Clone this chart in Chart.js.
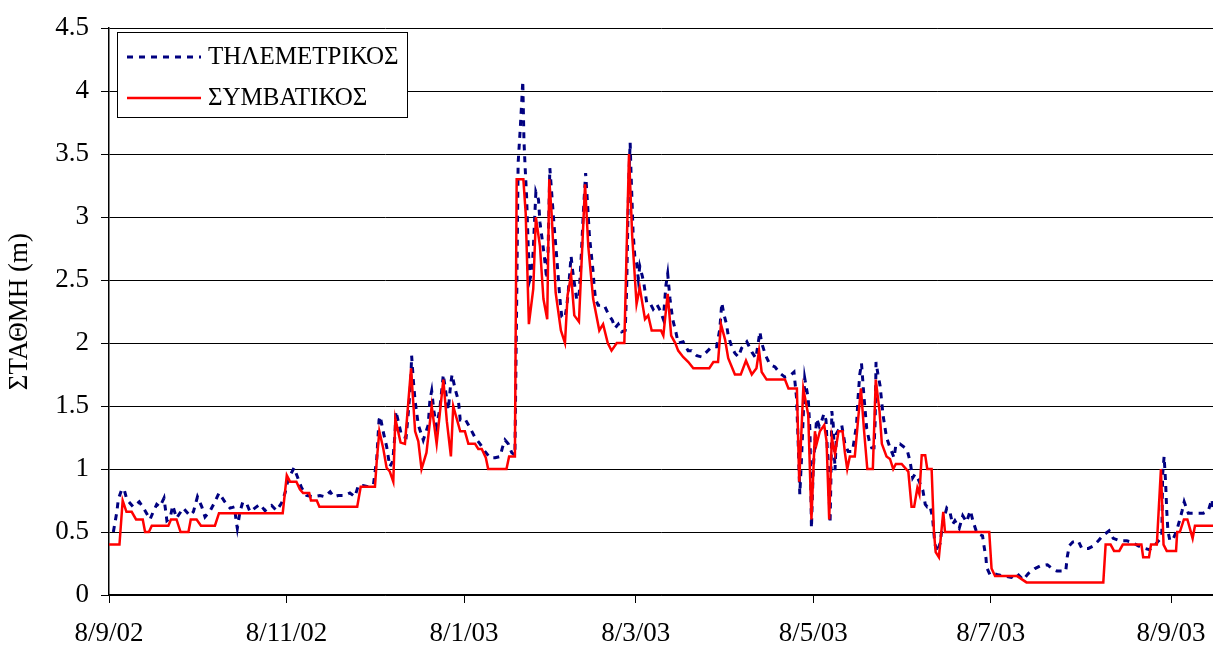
<!DOCTYPE html>
<html>
<head>
<meta charset="utf-8">
<script src="https://cdn.jsdelivr.net/npm/chart.js@4.4.1/dist/chart.umd.min.js"></script>
<style>
  body { margin: 0; background: #fff; }
  #wrap { width: 1213px; height: 648px; }
</style>
</head>
<body>
<div id="wrap"><canvas id="myChart" width="1213" height="648"></canvas></div>
<script>
// x values are days counted from 8/9/02
let tickDays = [0, 61, 122, 181, 242, 303, 365];
let tickLabels = ["8/9/02", "8/11/02", "8/1/03", "8/3/03", "8/5/03", "8/7/03", "8/9/03"];

let seriesNames = ["ΤΗΛΕΜΕΤΡΙΚΟΣ", "ΣΥΜΒΑΤΙΚΟΣ"];

// telemetric gauge (dashed)
let teleDays = [
  1.5,2.7,3.2,4.4,5.2,6.1,8.3,10.4,11.6,14.1,
  15.2,16.4,17.5,18.9,19.9,21.0,21.9,23.2,25.5,27.8,
  29.0,30.4,31.9,33.0,34.8,36.4,37.8,39.8,41.6,43.1,
  43.7,44.1,45.0,46.0,47.4,48.5,50.1,51.9,53.6,54.7,
  55.9,57.6,59.3,60.5,61.6,63.6,65.2,66.2,67.9,70.2,
  72.5,74.2,76.0,77.2,78.8,81.1,82.8,84.5,85.7,87.2,
  89.1,90.9,92.0,92.8,93.2,94.2,95.4,96.5,97.5,98.3,
  98.6,99.4,100.6,102.1,102.9,103.7,104.0,104.6,105.2,106.3,
  108.0,109.7,110.3,110.9,111.7,112.6,113.7,114.9,116.1,116.6,
  117.4,117.9,118.9,120.1,120.7,122.3,124.0,125.8,127.5,129.2,
  130.9,132.7,134.4,135.2,136.1,137.2,138.4,139.5,140.1,140.6,
  141.3,141.8,142.2,142.6,143.0,143.5,144.1,144.7,145.3,145.8,
  146.7,147.6,148.1,149.0,149.6,150.4,150.9,151.5,152.3,153.0,
  153.8,154.4,155.0,155.6,156.7,157.3,157.8,158.8,159.3,159.9,
  160.7,161.5,162.4,163.0,163.8,164.5,165.1,165.6,166.4,166.7,
  167.2,168.1,170.2,171.6,173.0,173.9,175.0,176.2,177.4,177.9,
  178.3,178.7,179.1,179.4,179.8,180.1,180.7,181.3,181.9,182.4,
  183.3,183.9,184.8,185.9,187.0,188.2,189.4,190.5,191.4,192.0,
  192.8,193.7,194.8,195.6,197.3,199.0,200.2,202.0,203.7,205.4,
  207.1,208.8,209.9,210.6,211.3,212.2,212.8,214.0,215.1,216.3,
  217.4,219.2,220.9,222.3,223.7,224.3,225.7,227.1,228.9,230.6,
  232.3,234.0,235.4,236.3,236.9,237.4,238.0,238.6,239.1,239.7,
  240.3,240.9,241.4,242.0,242.6,243.2,244.1,244.9,245.7,246.4,
  247.2,247.8,248.1,248.4,248.9,249.5,250.0,250.7,251.8,252.9,
  254.0,255.5,256.9,257.4,258.0,258.6,259.5,260.4,261.3,262.1,
  262.9,263.3,263.6,264.2,265.0,266.0,267.2,268.4,269.8,270.4,
  271.8,273.5,274.3,275.3,276.2,277.0,278.1,279.7,280.5,281.2,
  282.1,283.0,283.8,284.6,285.6,286.5,287.9,289.0,289.9,290.7,
  292.2,293.4,294.7,296.0,297.0,298.3,300.2,300.7,301.4,301.6,
  302.8,303.9,305.6,307.9,310.1,312.1,314.2,315.9,318.2,320.0,
  322.5,324.6,325.8,328.8,329.3,330.0,331.2,333.1,334.3,336.6,
  338.3,340.0,341.5,343.7,345.1,347.4,349.8,351.5,353.7,356.0,
  357.5,358.9,360.3,361.8,362.1,362.6,363.1,363.5,363.9,364.6,
  365.8,366.9,368.0,368.8,369.5,370.9,372.6,374.4,376.1,377.8,
  379.0,379.5
];
let teleLevels = [
  0.50,0.66,0.76,0.84,0.84,0.76,0.70,0.74,0.70,0.60,
  0.66,0.72,0.70,0.77,0.59,0.61,0.71,0.61,0.69,0.63,
  0.66,0.78,0.70,0.62,0.67,0.74,0.81,0.74,0.69,0.70,
  0.59,0.53,0.66,0.74,0.72,0.66,0.69,0.72,0.67,0.69,
  0.71,0.67,0.73,0.81,0.92,1.01,0.91,0.85,0.79,0.78,
  0.79,0.78,0.82,0.78,0.79,0.79,0.81,0.78,0.87,0.87,
  0.86,0.88,1.08,1.39,1.42,1.30,1.18,1.02,1.06,1.28,
  1.46,1.38,1.26,1.25,1.46,1.69,1.90,1.70,1.54,1.35,
  1.23,1.35,1.55,1.62,1.45,1.34,1.48,1.75,1.55,1.47,
  1.67,1.75,1.64,1.54,1.39,1.40,1.33,1.25,1.20,1.14,
  1.09,1.09,1.10,1.17,1.23,1.20,1.13,1.11,2.32,3.43,
  3.69,3.90,4.08,3.61,3.40,3.17,2.74,2.51,2.56,2.74,
  3.20,3.14,2.96,2.80,2.69,2.51,2.74,3.39,3.14,2.92,
  2.70,2.52,2.34,2.21,2.20,2.29,2.40,2.69,2.58,2.48,
  2.35,2.35,2.74,3.03,3.35,3.09,2.85,2.74,2.56,2.46,
  2.35,2.30,2.30,2.23,2.18,2.12,2.15,2.09,2.10,2.43,
  2.96,3.35,3.59,3.35,3.09,2.88,2.69,2.64,2.51,2.61,
  2.53,2.46,2.32,2.32,2.27,2.31,2.26,2.19,2.46,2.55,
  2.35,2.19,2.09,2.00,2.01,1.94,1.94,1.90,1.89,1.93,
  1.97,1.97,2.11,2.32,2.23,2.15,2.06,1.97,1.92,1.89,
  1.96,2.01,1.93,1.88,2.09,2.00,1.90,1.83,1.81,1.76,
  1.73,1.74,1.77,1.56,1.17,0.80,1.09,1.43,1.72,1.64,
  1.56,1.30,0.53,0.99,1.22,1.40,1.34,1.38,1.44,1.39,
  0.99,0.57,0.93,1.46,1.35,0.99,1.28,1.31,1.35,1.20,
  1.14,1.14,1.35,1.56,1.75,1.84,1.56,1.32,1.22,1.17,
  1.17,1.38,1.85,1.76,1.66,1.43,1.25,1.17,1.09,1.19,
  1.20,1.17,1.15,1.06,0.93,0.96,0.92,0.83,0.72,0.70,
  0.71,0.62,0.41,0.34,0.41,0.57,0.69,0.66,0.56,0.59,
  0.53,0.63,0.58,0.67,0.58,0.49,0.47,0.39,0.29,0.22,
  0.16,0.17,0.16,0.15,0.14,0.17,0.12,0.17,0.21,0.23,
  0.24,0.20,0.19,0.19,0.30,0.39,0.42,0.43,0.37,0.37,
  0.39,0.43,0.47,0.51,0.45,0.43,0.43,0.42,0.39,0.37,
  0.36,0.38,0.42,0.46,0.96,1.10,0.90,0.67,0.51,0.43,
  0.45,0.51,0.60,0.67,0.74,0.65,0.65,0.65,0.65,0.67,
  0.76,0.67
];

// conventional gauge (solid)
let convDays = [
  0,3.6,4.7,6.0,7.8,9.3,11.6,12.4,13.7,14.7,
  20.4,21.3,23.2,24.6,27.3,28.1,30.1,31.6,36.4,37.8,
  59.7,61.1,62.2,64.4,65.6,66.7,68.8,69.4,71.4,72.3,
  85.3,86.5,91.4,92.0,92.9,94.2,95.4,96.5,97.7,98.4,
  100.2,101.7,103.8,105.2,106.3,107.4,109.1,110.9,112.6,114.9,
  116.1,117.5,118.3,120.7,122.3,123.5,125.8,126.9,128.1,129.5,
  130.3,136.6,137.5,139.5,140.1,142.4,143.2,144.3,145.8,146.7,
  148.1,149.3,150.6,151.3,152.1,153.5,155.3,156.7,157.6,158.8,
  159.9,161.5,163.6,164.7,166.4,168.5,169.8,171.4,172.7,174.5,
  177.1,178.7,179.8,181.3,182.4,184.2,185.3,186.5,189.7,190.5,
  192.0,193.2,194.6,195.6,197.3,199.1,200.8,206.3,207.7,209.3,
  210.3,211.7,212.8,215.1,217.1,218.9,220.9,222.5,223.4,224.3,
  226.0,232.3,233.5,236.4,237.2,238.6,240.3,241.4,242.6,243.2,
  244.3,245.8,246.6,247.5,248.4,249.5,250.7,252.1,252.9,253.7,
  254.6,256.3,258.4,259.5,260.6,262.5,263.5,264.8,265.6,267.2,
  268.4,269.5,270.4,272.4,274.7,275.8,276.7,277.8,278.5,279.3,
  280.5,281.2,282.7,283.5,284.1,285.2,286.7,287.3,302.5,303.3,
  304.5,312.1,315.3,341.7,342.5,344.2,345.4,347.2,348.4,354.8,
  355.4,357.4,358.1,360.1,361.5,362.4,363.5,366.7,367.1,368.0,
  369.4,370.6,372.4,373.2,379.5
];
let convLevels = [
  0.40,0.40,0.75,0.66,0.66,0.60,0.60,0.50,0.50,0.55,
  0.55,0.60,0.60,0.50,0.50,0.60,0.60,0.55,0.55,0.65,
  0.65,0.95,0.90,0.90,0.84,0.81,0.81,0.75,0.75,0.70,
  0.70,0.86,0.86,1.06,1.30,1.17,1.01,0.98,0.90,1.40,
  1.21,1.20,1.80,1.30,1.22,1.00,1.13,1.50,1.20,1.71,
  1.38,1.10,1.50,1.30,1.30,1.20,1.20,1.16,1.16,1.09,
  1.00,1.00,1.10,1.10,3.30,3.30,3.03,2.15,2.43,3.00,
  2.77,2.35,2.19,3.30,3.03,2.40,2.10,2.00,2.38,2.54,
  2.22,2.17,3.26,2.77,2.35,2.10,2.15,2.00,1.94,2.00,
  2.00,3.50,2.85,2.31,2.44,2.19,2.22,2.10,2.10,2.06,
  2.39,2.06,2.00,1.94,1.89,1.85,1.80,1.80,1.85,1.85,
  2.15,2.03,1.88,1.75,1.75,1.86,1.75,1.80,1.94,1.77,
  1.71,1.71,1.64,1.64,0.90,1.64,1.43,0.60,1.30,1.20,
  1.30,1.35,1.22,0.60,1.25,1.12,1.30,1.30,1.13,1.00,
  1.10,1.10,1.64,1.30,1.00,1.00,1.71,1.46,1.20,1.10,
  1.08,1.00,1.04,1.04,0.98,0.70,0.70,0.85,0.80,1.11,
  1.11,1.00,1.00,0.50,0.34,0.30,0.66,0.50,0.50,0.21,
  0.15,0.15,0.10,0.10,0.40,0.40,0.35,0.35,0.40,0.40,
  0.30,0.30,0.40,0.40,1.00,0.40,0.35,0.35,0.50,0.50,
  0.60,0.60,0.45,0.55,0.55
];

let serif = '"Liberation Serif", "Times New Roman", serif';

function toPoints(days, levels) {
    return days.map((d, i) => ({ x: d, y: levels[i] }));
}

// legend drawn as a box inside the plot, like the original
const boxLegend = {
    id: "boxLegend",
    afterDraw(chart) {
        let ctx = chart.ctx;
        ctx.save();
        ctx.fillStyle = "#fff";
        ctx.fillRect(117, 32, 290, 85);
        ctx.strokeStyle = "#000";
        ctx.lineWidth = 1;
        ctx.strokeRect(117.5, 32.5, 290, 85);
        chart.data.datasets.forEach((ds, i) => {
            let y = 57 + i * 41;
            ctx.strokeStyle = ds.borderColor;
            ctx.lineWidth = ds.borderWidth;
            ctx.setLineDash(ds.borderDash || []);
            ctx.beginPath();
            ctx.moveTo(127, y);
            ctx.lineTo(201, y);
            ctx.stroke();
            ctx.setLineDash([]);
            ctx.fillStyle = "#000";
            ctx.font = "25px " + serif;
            ctx.textBaseline = "middle";
            ctx.fillText(ds.label, 208, y);
        });
        ctx.restore();
    }
};

let ctx1 = document.querySelector("#myChart");

new Chart(ctx1, {
    type: "line",
    data: {
        datasets: [
            {
                label: seriesNames[0],
                data: toPoints(teleDays, teleLevels),
                borderColor: "#000080",
                borderWidth: 3,
                borderDash: [6, 6],
                pointRadius: 0,
                tension: 0,
                order: 2
            },
            {
                label: seriesNames[1],
                data: toPoints(convDays, convLevels),
                borderColor: "#ff0000",
                borderWidth: 2.5,
                pointRadius: 0,
                tension: 0,
                order: 1
            }
        ]
    },
    options: {
        responsive: false,
        animation: false,
        devicePixelRatio: 1,
        layout: {
            padding: { top: 24, right: 0, bottom: 0, left: 0 }
        },
        plugins: {
            legend: { display: false },
            tooltip: { enabled: false }
        },
        scales: {
            x: {
                type: "linear",
                min: 0,
                max: 379.4,
                afterBuildTicks: (scale) => {
                    scale.ticks = tickDays.map(v => ({ value: v }));
                },
                afterFit: (scale) => {
                    scale.height = 53;
                    // plot runs to the right edge, the last label does not reach it
                    scale.paddingLeft = 0;
                    scale.paddingRight = 0;
                },
                ticks: {
                    autoSkip: false,
                    maxRotation: 0,
                    color: "#000",
                    padding: 15,
                    font: { family: serif, size: 27 },
                    callback: (v) => tickLabels[tickDays.indexOf(v)]
                },
                grid: {
                    drawOnChartArea: false,
                    drawTicks: true,
                    tickLength: 8,
                    color: "#000"
                },
                border: { color: "#000", width: 1.5 }
            },
            y: {
                min: 0,
                max: 4.5,
                afterFit: (scale) => { scale.width = 109; },
                ticks: {
                    stepSize: 0.5,
                    color: "#000",
                    padding: 12,
                    font: { family: serif, size: 27 },
                    callback: (v) => String(v)
                },
                grid: {
                    color: "#000",
                    lineWidth: 1,
                    tickLength: 8
                },
                border: { color: "#000", width: 1.5 },
                title: {
                    display: true,
                    text: "ΣΤΑΘΜΗ (m)",
                    color: "#000",
                    font: { family: serif, size: 27 },
                    padding: { top: 4, bottom: 0 }
                }
            }
        }
    },
    plugins: [boxLegend]
});
</script>
</body>
</html>
